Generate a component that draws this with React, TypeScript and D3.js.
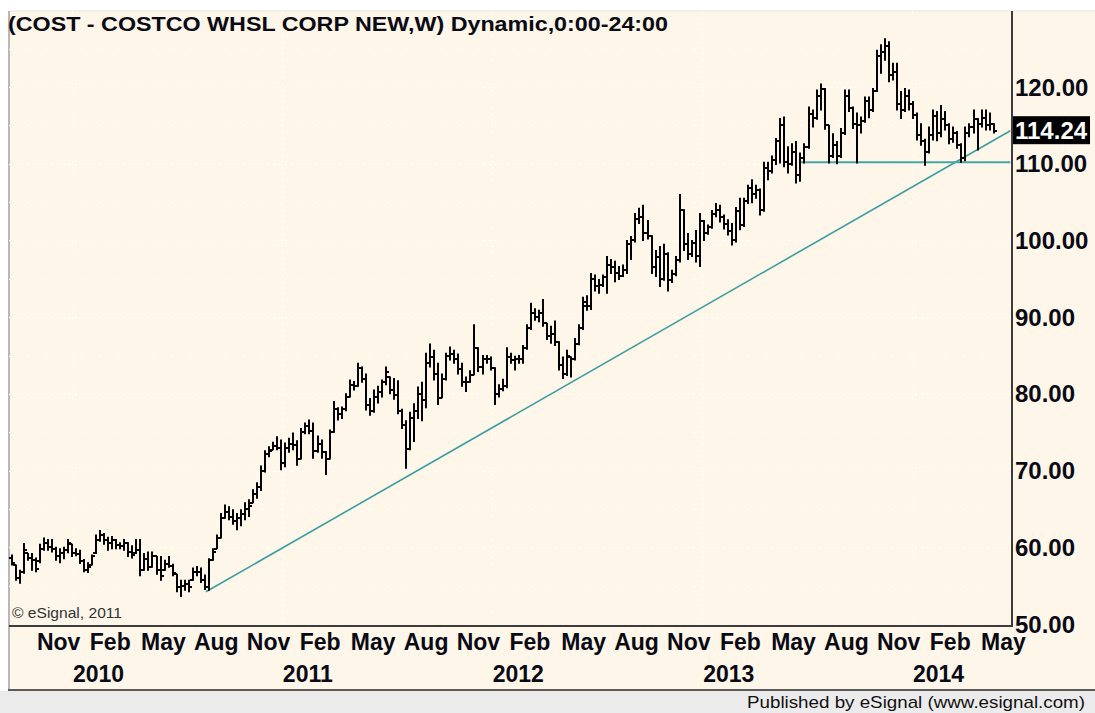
import React from 'react'
import * as d3 from 'd3'

// weekly bars, COST, starting week of 18 Sep 2009
const firstWeek = new Date(2009, 8, 18)

const highs = [
  59.0, 57.7, 57.0, 60.5, 59.2, 59.2, 58.6, 60.4, 61.2, 61.0,
  61.0, 60.0, 59.8, 60.0, 61.0, 60.4, 59.8, 59.6, 58.4, 58.0,
  59.0, 61.6, 62.2, 61.8, 61.3, 61.4, 61.0, 60.6, 61.0, 60.6,
  60.2, 61.0, 61.0, 59.2, 59.4, 59.4, 58.8, 58.8, 58.3, 58.8,
  57.8, 56.5, 55.7, 55.7, 55.7, 57.3, 57.5, 57.3, 56.4, 58.5,
  59.8, 61.6, 64.4, 65.5, 65.3, 64.9, 64.4, 64.9, 65.8, 66.2,
  67.5, 68.4, 70.6, 72.6, 73.1, 73.7, 74.4, 74.0, 73.6, 74.2,
  74.9, 73.9, 75.5, 76.2, 76.6, 76.2, 74.5, 74.0, 72.5, 75.3,
  79.0, 78.2, 78.3, 80.0, 81.8, 81.6, 84.0, 83.5, 82.6, 79.4,
  80.5, 81.0, 81.8, 83.5, 82.2, 82.0, 81.7, 78.0, 76.5, 77.6,
  78.7, 80.9, 81.5, 85.3, 86.5, 85.7, 84.0, 82.6, 85.3, 86.1,
  85.7, 85.2, 84.0, 82.2, 83.0, 89.0, 86.0, 85.0, 85.0, 84.8,
  83.4, 81.2, 81.9, 86.0, 85.3, 84.9, 85.0, 86.3, 89.0, 91.8,
  91.1, 90.9, 92.3, 89.2, 88.8, 89.5, 86.8, 84.8, 85.7, 84.8,
  87.2, 89.0, 92.6, 92.8, 95.7, 95.5, 94.9, 95.5, 97.9, 97.5,
  97.3, 96.6, 96.8, 100.0, 100.5, 103.5, 104.2, 104.6, 102.6, 100.6,
  98.7, 99.2, 99.5, 98.4, 96.1, 97.9, 106.0, 104.0, 100.9, 100.0,
  101.3, 103.5, 102.6, 102.0, 103.9, 104.8, 104.6, 103.3, 102.7, 102.2,
  104.3, 105.5, 105.5, 107.2, 107.9, 107.2, 106.7, 110.2, 110.2, 111.0,
  113.3, 115.9, 116.1, 112.2, 112.6, 112.9, 111.4, 112.6, 117.4, 117.0,
  119.6, 120.4, 119.8, 115.0, 113.9, 112.9, 114.6, 119.6, 119.6, 117.4,
  116.6, 116.1, 118.7, 118.7, 119.8, 124.8, 125.5, 126.3, 125.9, 123.1,
  123.1, 119.4, 119.8, 119.6, 118.1, 116.6, 115.2, 113.2, 114.8, 117.0,
  116.8, 117.6, 116.8, 115.2, 114.8, 114.2, 112.6, 114.8, 115.2, 117.0,
  115.9, 117.0, 117.0, 116.6, 115.2,
]

const lows = [
  57.7, 55.7, 55.3, 56.6, 58.3, 57.0, 56.8, 58.0, 59.6, 59.6,
  59.4, 58.3, 58.0, 58.5, 59.3, 58.8, 58.9, 57.9, 56.8, 56.7,
  57.7, 59.2, 60.8, 60.4, 59.6, 59.8, 59.8, 59.8, 59.6, 58.8,
  58.6, 59.2, 56.3, 57.0, 57.0, 57.4, 56.5, 55.7, 57.0, 57.4,
  56.3, 54.2, 53.6, 54.4, 54.2, 55.7, 56.3, 55.4, 54.5, 54.4,
  58.3, 59.8, 61.2, 63.8, 63.6, 63.0, 62.3, 62.8, 63.6, 64.0,
  65.8, 66.4, 67.4, 69.8, 71.8, 72.7, 72.7, 70.1, 70.5, 72.4,
  72.7, 70.7, 71.5, 74.8, 74.8, 71.6, 72.4, 71.6, 69.5, 71.5,
  75.0, 76.6, 76.8, 77.8, 79.6, 80.5, 81.0, 81.5, 77.9, 77.2,
  77.6, 78.8, 79.6, 81.2, 80.0, 79.3, 77.4, 75.5, 70.3, 72.7,
  73.8, 76.8, 76.5, 78.2, 83.5, 81.8, 78.6, 79.5, 81.8, 84.4,
  84.0, 82.6, 81.0, 80.3, 81.5, 82.5, 82.9, 82.6, 84.0, 83.1,
  78.6, 79.6, 80.4, 80.8, 84.0, 83.1, 84.0, 84.0, 85.8, 88.4,
  89.6, 89.4, 88.8, 87.1, 86.6, 86.3, 83.1, 82.0, 82.4, 82.2,
  84.4, 86.4, 88.4, 90.9, 91.0, 93.4, 93.1, 94.0, 93.1, 95.7,
  94.6, 94.9, 95.3, 95.7, 97.5, 99.8, 102.2, 100.0, 100.2, 95.7,
  95.3, 94.0, 94.8, 93.4, 94.5, 95.4, 97.2, 98.7, 97.5, 97.9,
  97.2, 96.6, 100.0, 100.8, 101.6, 103.1, 102.4, 101.5, 100.7, 99.4,
  99.8, 101.4, 101.8, 104.8, 104.9, 105.5, 103.3, 103.8, 107.9, 108.8,
  109.9, 110.1, 109.6, 108.8, 109.8, 107.5, 107.7, 110.1, 112.0, 114.8,
  115.8, 117.0, 114.5, 110.1, 110.8, 110.0, 110.8, 113.8, 116.8, 114.6,
  110.1, 114.0, 115.4, 116.0, 116.8, 119.4, 121.8, 123.5, 120.7, 120.9,
  117.0, 115.9, 116.8, 117.0, 115.9, 113.1, 112.4, 109.8, 111.4, 113.1,
  113.0, 113.5, 114.4, 112.6, 112.8, 112.0, 110.2, 110.4, 113.5, 114.0,
  111.8, 114.8, 114.4, 114.4, 114.0,
]

const opens = [
  58.6, 58.0, 56.0, 56.8, 59.6, 58.6, 58.4, 58.2, 59.8, 60.6,
  60.0, 59.8, 58.8, 59.2, 59.6, 60.5, 59.3, 59.1, 58.2, 57.0,
  57.7, 59.2, 61.0, 61.6, 60.9, 60.6, 61.0, 60.3, 60.2, 60.6,
  59.4, 59.2, 59.6, 57.0, 58.5, 57.4, 58.8, 57.0, 57.0, 57.8,
  57.6, 56.5, 54.8, 55.0, 55.2, 55.7, 56.8, 56.8, 55.8, 54.8,
  58.3, 59.8, 61.2, 63.8, 64.6, 64.0, 63.4, 63.8, 64.4, 65.0,
  65.8, 67.0, 67.8, 70.0, 72.2, 72.7, 73.2, 73.0, 71.0, 73.0,
  73.5, 73.3, 71.5, 75.0, 75.8, 75.2, 72.5, 73.5, 72.4, 71.5,
  75.0, 78.0, 77.4, 78.0, 79.6, 81.2, 81.0, 83.4, 82.0, 78.6,
  77.8, 79.6, 80.2, 81.5, 82.2, 80.5, 79.8, 77.8, 76.0, 72.8,
  76.8, 77.8, 80.0, 79.2, 84.0, 84.8, 82.6, 79.5, 82.0, 85.0,
  85.2, 84.6, 83.2, 81.6, 81.5, 82.5, 86.0, 83.5, 84.5, 84.5,
  83.4, 80.0, 80.6, 81.0, 84.8, 84.4, 84.5, 84.6, 86.0, 88.6,
  90.6, 90.0, 90.5, 89.2, 87.6, 87.8, 86.8, 83.8, 82.6, 84.8,
  84.6, 86.5, 88.6, 91.5, 91.5, 95.0, 94.0, 94.2, 95.2, 96.8,
  96.6, 95.8, 95.4, 96.2, 99.5, 100.0, 102.8, 103.0, 101.0, 100.6,
  96.5, 97.8, 95.0, 98.2, 94.8, 95.6, 97.4, 104.0, 99.5, 98.2,
  99.6, 98.0, 102.5, 101.0, 101.8, 103.5, 104.0, 103.0, 102.2, 101.2,
  100.0, 103.8, 102.0, 105.2, 106.8, 106.0, 106.6, 104.0, 109.5, 109.0,
  110.5, 113.0, 115.0, 110.2, 110.0, 111.5, 108.5, 110.8, 112.2, 116.5,
  116.0, 118.8, 119.8, 115.0, 111.0, 112.5, 111.0, 114.0, 118.8, 117.2,
  115.2, 115.0, 115.6, 118.2, 117.0, 119.5, 124.0, 124.5, 125.4, 121.5,
  122.0, 117.8, 117.0, 118.8, 117.8, 116.4, 113.8, 113.0, 111.5, 113.8,
  116.2, 114.0, 115.8, 115.0, 113.2, 114.0, 112.4, 110.8, 114.0, 114.8,
  115.8, 115.2, 116.0, 115.0, 115.2,
]

const closes = [
  58.0, 56.0, 56.8, 59.6, 58.6, 58.4, 57.2, 59.8, 60.6, 60.0,
  59.8, 58.8, 59.2, 59.6, 60.5, 59.3, 59.1, 58.2, 57.0, 57.4,
  58.8, 61.0, 61.6, 60.9, 60.6, 61.0, 60.3, 60.2, 60.6, 59.4,
  59.0, 59.6, 57.0, 58.5, 57.4, 58.8, 57.0, 56.2, 57.8, 57.6,
  56.6, 54.8, 55.0, 55.2, 54.8, 56.8, 56.8, 55.8, 54.8, 58.3,
  59.4, 61.2, 63.8, 64.6, 64.0, 63.4, 63.8, 64.4, 65.0, 65.4,
  67.0, 67.8, 70.0, 72.2, 72.6, 73.2, 73.0, 71.0, 73.0, 73.5,
  73.3, 71.5, 75.0, 75.8, 75.2, 72.5, 73.5, 72.4, 71.5, 75.0,
  78.0, 77.4, 78.0, 79.6, 81.2, 81.0, 83.4, 82.0, 78.6, 77.8,
  79.6, 80.2, 81.5, 82.8, 80.5, 79.8, 77.8, 76.0, 72.8, 76.8,
  77.8, 80.0, 79.2, 84.0, 84.8, 82.6, 79.5, 82.0, 85.0, 85.2,
  84.6, 83.2, 81.6, 81.5, 82.5, 86.0, 83.5, 84.5, 84.5, 83.4,
  80.0, 80.6, 81.0, 84.8, 84.4, 84.5, 84.6, 86.0, 88.6, 90.6,
  90.0, 90.5, 89.2, 87.6, 87.8, 86.8, 83.8, 82.6, 85.0, 84.6,
  86.5, 88.6, 92.0, 91.5, 95.0, 94.0, 94.2, 95.2, 96.8, 96.6,
  95.8, 95.4, 96.2, 99.5, 100.0, 102.8, 103.0, 101.0, 100.6, 96.5,
  97.8, 95.0, 98.2, 94.8, 95.6, 97.4, 104.0, 99.5, 98.2, 99.6,
  98.0, 102.5, 101.0, 101.8, 103.5, 104.0, 103.0, 102.2, 101.2, 100.0,
  103.8, 102.0, 105.2, 106.8, 106.0, 106.6, 104.0, 109.5, 109.0, 110.5,
  113.0, 115.0, 110.2, 110.0, 111.5, 108.5, 110.8, 112.2, 116.5, 116.0,
  118.8, 119.8, 115.0, 111.0, 112.5, 111.0, 114.0, 118.8, 117.2, 115.2,
  115.0, 115.6, 118.2, 117.0, 119.5, 124.0, 124.5, 125.4, 121.5, 122.0,
  117.8, 117.0, 118.8, 117.8, 116.4, 113.8, 113.0, 111.5, 113.8, 116.2,
  114.0, 115.8, 115.0, 113.2, 114.0, 112.4, 110.8, 114.0, 114.8, 115.8,
  115.2, 116.0, 115.0, 115.2, 114.24,
]

const priceTicks = [50, 60, 70, 80, 90, 100, 110, 120]
const gridLevels = [55, 60, 65, 70, 75, 80, 85, 90, 95, 100, 105, 110, 115, 120, 125]

// drawn lines: [date, price]
const trendStart: [Date, number] = [new Date(2010, 7, 22), 54.2]
const trendEnd: [Date, number] = [new Date(2014, 5, 21), 114.3]
const supportStart: [Date, number] = [new Date(2013, 5, 21), 110.2]
const supportEnd: [Date, number] = [new Date(2014, 5, 21), 110.2]

const title = '(COST - COSTCO WHSL CORP NEW,W) Dynamic,0:00-24:00'
const font = '"Liberation Sans", Arial, sans-serif'

const W = 1095
const H = 713
const plotLeft = 9
const plotRight = 1012
const plotTop = 11
const plotBottom = 626

const App = () => {
  const dates = closes.map((_, i) => d3.timeWeek.offset(firstWeek, i))

  const x = d3.scaleTime()
    .domain([new Date(2010, 0, 1), new Date(2014, 0, 1)])
    .range([72, 912])
  const y = d3.scaleLinear().domain([50, 120]).range([624, 87])

  const months = d3.timeMonth
    .range(new Date(2009, 10, 1), new Date(2014, 5, 2))
    .filter(d => d.getMonth() % 3 === 1)
  const years = d3.timeYear.range(new Date(2010, 0, 1), new Date(2014, 1, 1))

  const line = d3.line<[Date, number]>().x(d => x(d[0])).y(d => y(d[1]))
  const last = closes[closes.length - 1]

  return (
    <div style={{ position: 'absolute', left: 0, top: 0 }}>
      <svg width={W} height={H} style={{ display: 'block' }}>
        <defs>
          <clipPath id="plot">
            <rect x={plotLeft} y={plotTop} width={plotRight - plotLeft} height={plotBottom - plotTop} />
          </clipPath>
        </defs>
        <rect x={0} y={0} width={W} height={H} fill="#ffffff" />
        <rect x={plotLeft} y={plotTop} width={W - plotLeft} height={690 - plotTop} fill="#fdf6e9" />
        <rect x={0} y={691} width={W} height={H - 691} fill="#ebebeb" />
        <line x1={plotLeft} x2={W} y1={plotTop} y2={plotTop} stroke="#e2e2e2" />
        <line x1={plotLeft} x2={plotLeft} y1={plotTop} y2={690} stroke="#b8b8b8" strokeWidth={2} />

        {/* grid */}
        <g clipPath="url(#plot)">
          {gridLevels.map(v => (
            <line key={'g' + v} x1={plotLeft} x2={plotRight} y1={Math.round(y(v)) + 0.5} y2={Math.round(y(v)) + 0.5}
              stroke="#ffffff" strokeWidth={1.2}
              strokeDasharray={v % 10 === 0 ? '2 4' : '2 16'} />
          ))}
          {years.map(d => (
            <line key={'v' + d.getFullYear()} x1={Math.round(x(d)) + 0.5} x2={Math.round(x(d)) + 0.5}
              y1={plotTop} y2={plotBottom} stroke="#ffffff" strokeWidth={1.2} strokeDasharray="2 4" />
          ))}
        </g>

        <text x={8} y={31} fontFamily={font} fontWeight="bold" fontSize={21} fill="#0a0a14"
          textLength={660} lengthAdjust="spacingAndGlyphs">{title}</text>
        <text x={12} y={618} fontFamily={font} fontSize={15} fill="#333"
          textLength={110} lengthAdjust="spacingAndGlyphs">© eSignal, 2011</text>

        {/* trend lines */}
        <g clipPath="url(#plot)">
          <path d={line([trendStart, trendEnd]) ?? ''} fill="none" stroke="#3d9e9e" strokeWidth={1.6} />
          <path d={line([supportStart, supportEnd]) ?? ''} fill="none" stroke="#4aa5a5" strokeWidth={2} />
        </g>

        {/* weekly OHLC bars */}
        <g stroke="#000" strokeWidth={2} clipPath="url(#plot)">
          {dates.map((d, i) => {
            const cx = Math.round(x(d))
            const o = Math.max(lows[i], Math.min(highs[i], opens[i]))
            const c = Math.max(lows[i], Math.min(highs[i], closes[i]))
            const top = y(highs[i])
            const bot = y(lows[i])
            return (
              <g key={i}>
                <line x1={cx} x2={cx} y1={top - 0.5} y2={bot + 0.5} />
                <line x1={cx - 3} x2={cx} y1={Math.round(y(o))} y2={Math.round(y(o))} />
                <line x1={cx} x2={cx + 3} y1={Math.round(y(c))} y2={Math.round(y(c))} />
              </g>
            )
          })}
        </g>

        {/* axes frame */}
        <line x1={plotLeft} x2={plotRight + 1} y1={plotBottom} y2={plotBottom} stroke="#3c3c3c" strokeWidth={2} />
        <line x1={plotRight} x2={plotRight} y1={plotTop} y2={plotBottom} stroke="#3c3c3c" strokeWidth={2} />
        <line x1={plotLeft - 1} x2={W} y1={690} y2={690} stroke="#5a5a5a" strokeWidth={2} />

        {/* price axis */}
        {priceTicks.map(v => (
          <text key={'p' + v} x={1015} y={y(v) + 8.5} fontFamily={font} fontWeight="bold" fontSize={24} fill="#0a0a14">
            {v.toFixed(2)}
          </text>
        ))}
        <rect x={1013} y={y(last) - 15} width={77} height={28} fill="#000" />
        <text x={1015} y={y(last) + 7.5} fontFamily={font} fontWeight="bold" fontSize={24} fill="#fff">
          {last.toFixed(2)}
        </text>

        {/* time axis */}
        {months.map(d => (
          <text key={'m' + d.getTime()} x={x(d)} y={650} fontFamily={font} fontWeight="bold" fontSize={23} fill="#0a0a14">
            {d3.timeFormat('%b')(d)}
          </text>
        ))}
        {years.map(d => (
          <text key={'y' + d.getTime()} x={x(d) + 1} y={682} fontFamily={font} fontWeight="bold" fontSize={23} fill="#0a0a14">
            {d.getFullYear()}
          </text>
        ))}

        <text x={1085} y={708} textAnchor="end" fontFamily={font} fontSize={17} fill="#111"
          textLength={338} lengthAdjust="spacingAndGlyphs">
          Published by eSignal (www.esignal.com)
        </text>
      </svg>
    </div>
  )
}

export default App
